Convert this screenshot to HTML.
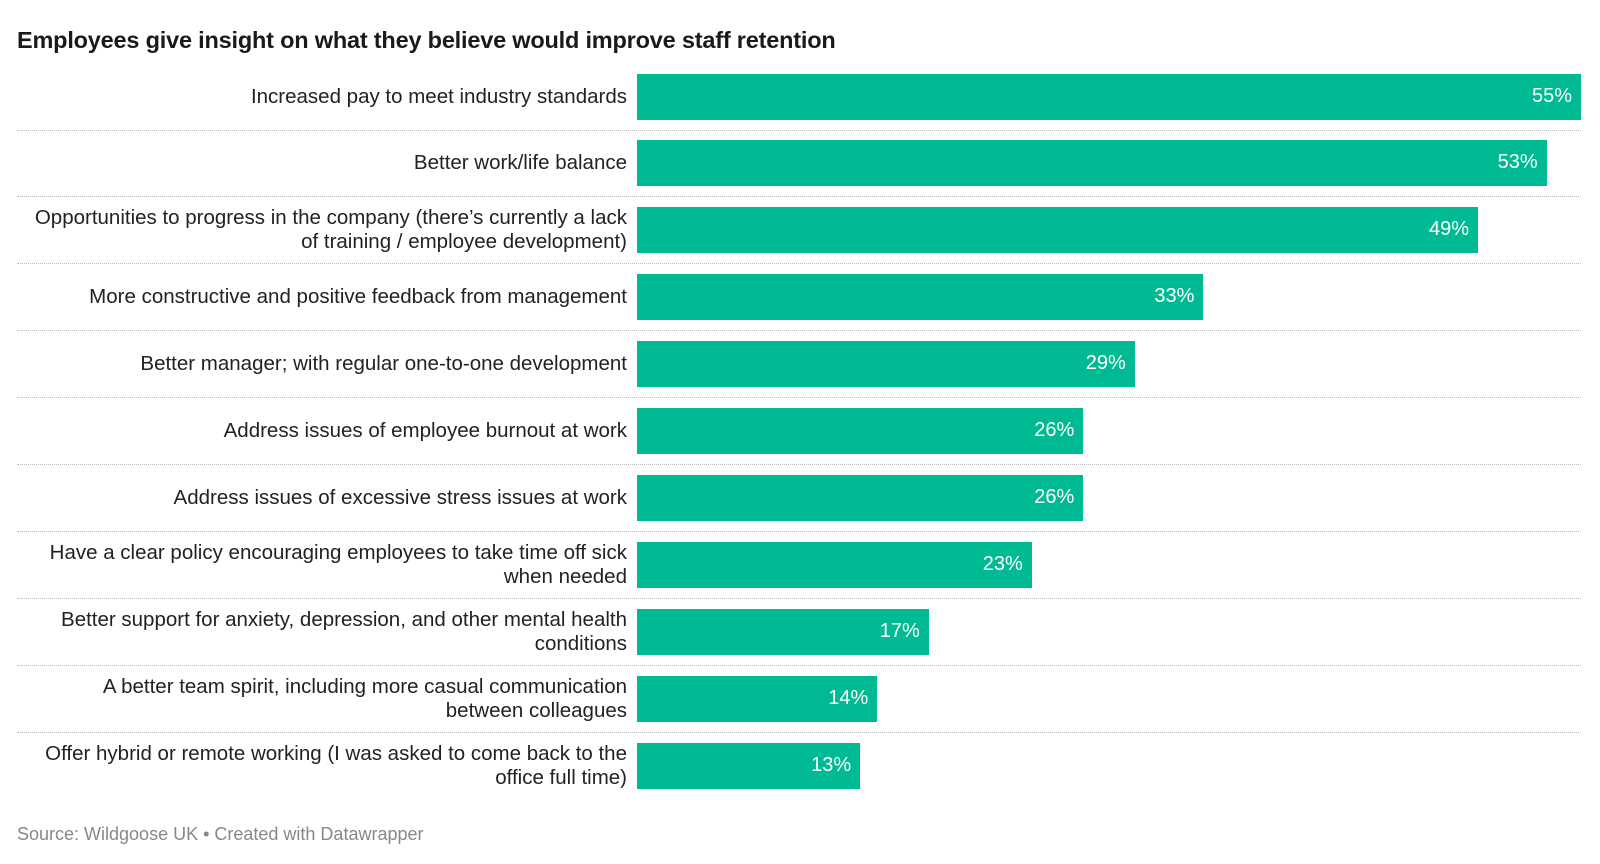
<!DOCTYPE html>
<html><head><meta charset="utf-8">
<style>
body{margin:0;width:1600px;height:864px;background:#fff;font-family:"Liberation Sans",sans-serif;overflow:hidden;position:relative}
.title{position:absolute;left:17px;top:27px;font-size:23.5px;font-weight:bold;color:#1a1a1a;letter-spacing:-0.2px}
.lbl{position:absolute;left:27px;width:600px;text-align:right;font-size:20.5px;line-height:24px;color:#222;display:flex;align-items:center;justify-content:flex-end}
.bar{position:absolute;left:637px;height:46px;background:#00ba94}
.val{position:absolute;font-size:20px;color:#fff;text-align:right;width:70px;line-height:46px}
.sep{position:absolute;left:17px;width:1564px;border-top:1px dotted #bbb;height:0}
.src{position:absolute;left:17px;top:824px;font-size:18px;color:#888}
</style></head><body>
<div class="title">Employees give insight on what they believe would improve staff retention</div>
<div id="chart"></div>
<div class="src">Source: Wildgoose UK • Created with Datawrapper</div>
<script>
const categories=["Increased pay to meet industry standards","Better work/life balance","Opportunities to progress in the company (there’s currently a lack of training / employee development)","More constructive and positive feedback from management","Better manager; with regular one-to-one development","Address issues of employee burnout at work","Address issues of excessive stress issues at work","Have a clear policy encouraging employees to take time off sick when needed","Better support for anxiety, depression, and other mental health conditions","A better team spirit, including more casual communication between colleagues","Offer hybrid or remote working (I was asked to come back to the office full time)"];
const values=[55,53,49,33,29,26,26,23,17,14,13];
const valueLabels=["55%","53%","49%","33%","29%","26%","26%","23%","17%","14%","13%"];
const chart=document.getElementById('chart');
const x0=637, maxW=944, maxV=55;
function xs(v){return v/maxV*maxW;}
function ys(i){return 73.5+i*66.9;}
categories.forEach((c,i)=>{
  const y=ys(i);
  const l=document.createElement('div');l.className='lbl';
  
  
  l.style.top=y+'px';l.style.height='46px';l.textContent=c;chart.appendChild(l);
  const b=document.createElement('div');b.className='bar';
  
  
  b.style.top=y+'px';b.style.width=xs(values[i])+'px';chart.appendChild(b);
  const v=document.createElement('div');v.className='val';
  
  
  v.style.top=(y-1)+'px';v.style.left=(x0+xs(values[i])-79)+'px';v.textContent=valueLabels[i];chart.appendChild(v);
  if(i<categories.length-1){
    const s=document.createElement('div');s.className='sep';
    
    
    s.style.top=(y+56)+'px';chart.appendChild(s);
  }
});
</script>
</body></html>
